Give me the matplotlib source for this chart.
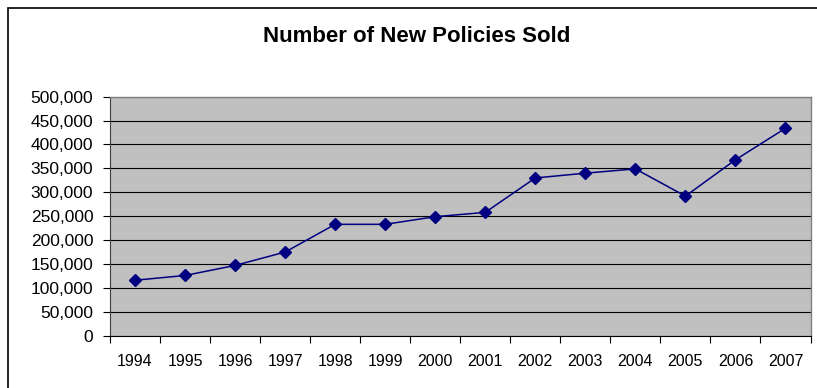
import matplotlib
matplotlib.use("Agg")
import matplotlib.pyplot as plt
from matplotlib.ticker import FuncFormatter, FixedLocator
from matplotlib.patches import Rectangle

plt.rcParams['font.family'] = ['Liberation Sans', 'DejaVu Sans']

# data
years = ['1994', '1995', '1996', '1997', '1998', '1999', '2000',
         '2001', '2002', '2003', '2004', '2005', '2006', '2007']
policies = [116000, 126000, 147000, 175000, 233000, 233000, 249000,
            258000, 330000, 340000, 349000, 292000, 368000, 434000]
y_ticks = list(range(0, 500001, 50000))

fig = plt.figure(figsize=(8.17, 3.88), dpi=100)
fig.patch.set_facecolor('white')

# outer chart border (only left/top visible in the crop)
fig.patches.append(Rectangle((8 / 817, -0.5), 2.0, 1.5 - 8 / 388,
                             transform=fig.transFigure, fill=False,
                             edgecolor='black', linewidth=1.2))

ax = fig.add_axes([110 / 817, 1 - 335.7 / 388, (810.5 - 110) / 817, (335.7 - 96.7) / 388])
ax.set_facecolor('#c0c0c0')

x = list(range(len(years)))
ax.plot(x, policies, color='#000080', linewidth=1.1, marker='D',
        markersize=6, markerfacecolor='#000080', markeredgecolor='#000080', zorder=3)

ax.set_xlim(-0.5, len(years) - 0.5)
ax.set_ylim(0, 500000)

ax.set_yticks(y_ticks)
ax.yaxis.set_major_formatter(FuncFormatter(lambda v, p: f'{int(v):,}'))
ax.yaxis.grid(True, color='black', linewidth=0.8)
ax.set_axisbelow(True)

# category labels centred, ticks between categories
ax.set_xticks(x)
ax.set_xticklabels(years)
ax.xaxis.set_minor_locator(FixedLocator([i - 0.5 for i in range(len(years) + 1)]))
ax.tick_params(axis='x', which='major', length=0, pad=13, labelsize=11.5)
ax.tick_params(axis='x', which='minor', length=5, width=0.8, direction='out')
ax.tick_params(axis='y', length=5, width=0.8, direction='out', pad=7, labelsize=12.5)

for s in ['top', 'right']:
    ax.spines[s].set_color('#808080')
    ax.spines[s].set_linewidth(1)
ax.spines['left'].set_color('#404040')
ax.spines['bottom'].set_color('black')

fig.text(417 / 817, 1 - 37 / 388, 'Number of New Policies Sold', ha='center', va='center',
         fontsize=16, fontweight='bold')

fig.savefig('out.png', dpi=100)
